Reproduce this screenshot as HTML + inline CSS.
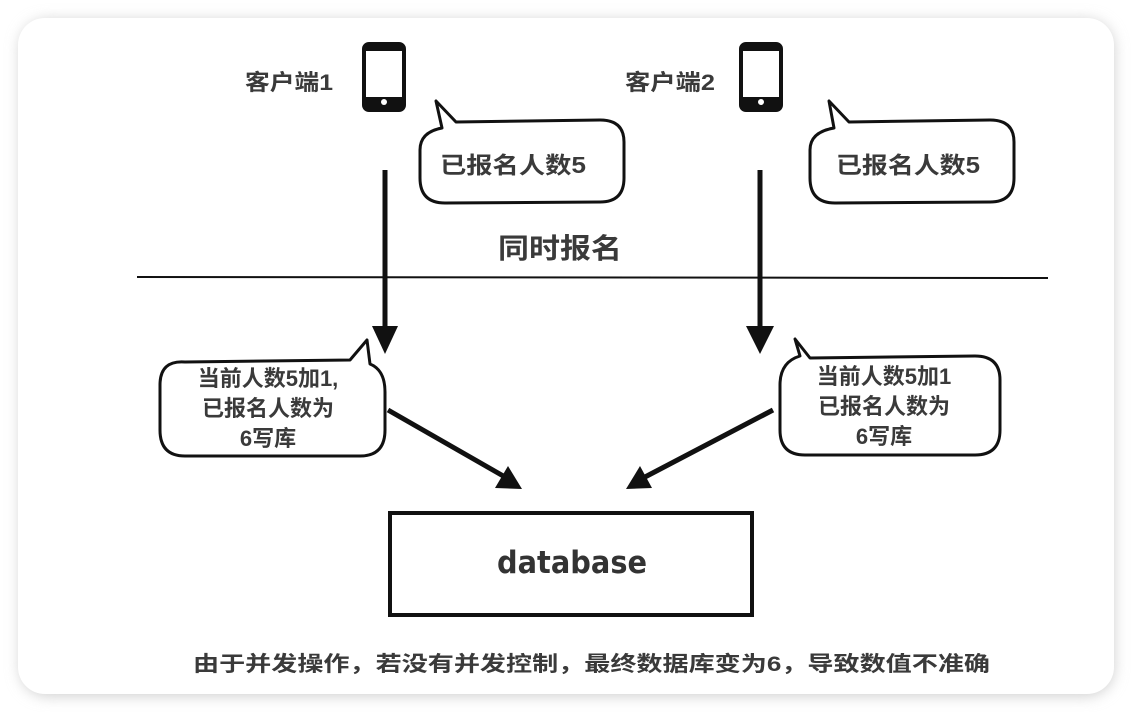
<!DOCTYPE html>
<html><head><meta charset="utf-8">
<style>
html,body{margin:0;padding:0;background:#fff;width:1132px;height:712px;overflow:hidden}
svg{display:block}
text{font-family:"Liberation Sans","Noto Sans CJK SC",sans-serif;fill:#3a3a3a;font-weight:bold}
</style></head><body>
<svg width="1132" height="712" viewBox="0 0 1132 712" xmlns="http://www.w3.org/2000/svg">
<defs>
<filter id="sh" x="-5%" y="-5%" width="110%" height="110%">
<feGaussianBlur stdDeviation="7"/>
</filter>
</defs>
<rect x="0" y="0" width="1132" height="712" fill="#fff"/>
<rect x="20" y="20" width="1094" height="676" rx="28" fill="#cfcfcf" filter="url(#sh)"/>
<rect x="18" y="18" width="1096" height="676" rx="27" fill="#fff"/>

<!-- client labels -->
<text x="245" y="90" font-size="22" textLength="88" lengthAdjust="spacingAndGlyphs">客户端1</text>
<text x="625" y="90" font-size="22" textLength="90" lengthAdjust="spacingAndGlyphs">客户端2</text>

<!-- phones -->
<g fill="none" stroke="#111">
<rect x="364" y="44" width="40" height="66" rx="5" stroke-width="4"/>
<rect x="741" y="44" width="40" height="66" rx="5" stroke-width="4"/>
</g>
<g fill="#111">
<rect x="366" y="46" width="36" height="5"/><rect x="366" y="97" width="36" height="11"/>
<rect x="743" y="46" width="36" height="5"/><rect x="743" y="97" width="36" height="11"/>
</g>
<circle cx="384" cy="102" r="3" fill="#fff"/>
<circle cx="761" cy="102" r="3" fill="#fff"/>

<!-- top bubbles -->
<g fill="#fff" stroke="#111" stroke-width="3" stroke-linejoin="round">
<path d="M456,122 L436,101 L442,128 Q420,132 420,150 L420,178 Q420,203 445,203 L600,202 Q624,202 624,178 L624,142 Q624,120 600,120 Z"/>
<path d="M849,122 L829,101 L834,128 Q810,132 810,150 L810,178 Q810,203 835,203 L990,202 Q1014,202 1014,178 L1014,142 Q1014,120 990,120 Z"/>
</g>
<text x="440" y="173" font-size="23" textLength="146" lengthAdjust="spacingAndGlyphs">已报名人数5</text>
<text x="836" y="173" font-size="23" textLength="144" lengthAdjust="spacingAndGlyphs">已报名人数5</text>

<!-- divider -->
<line x1="137" y1="277" x2="1048" y2="278" stroke="#111" stroke-width="2"/>
<text x="498" y="258" font-size="28" textLength="124" lengthAdjust="spacingAndGlyphs">同时报名</text>

<!-- vertical arrows -->
<g stroke="#111" stroke-width="5" fill="#111">
<line x1="385" y1="170" x2="385" y2="330"/>
<line x1="760" y1="170" x2="760" y2="330"/>
</g>
<polygon points="372,326 398,326 385,354" fill="#111"/>
<polygon points="746,326 774,326 760,354" fill="#111"/>

<!-- lower bubbles -->
<g fill="#fff" stroke="#111" stroke-width="3" stroke-linejoin="round">
<path d="M350,360 L367,340 L370,364 Q385,370 385,392 L385,430 Q385,456 360,456 L185,456 Q160,456 160,430 L160,385 Q160,360 185,362 Z"/>
<path d="M810,358 L795,339 L800,356 Q780,362 780,385 L780,430 Q780,455 805,455 L975,455 Q1000,455 1000,430 L1000,380 Q1000,356 975,356 Z"/>
</g>
<g font-size="22" text-anchor="middle">
<text x="268" y="386">当前人数5加1,</text>
<text x="268" y="416">已报名人数为</text>
<text x="268" y="446">6写库</text>
<text x="884" y="384">当前人数5加1</text>
<text x="884" y="414">已报名人数为</text>
<text x="884" y="444">6写库</text>
</g>

<!-- diagonal arrows -->
<line x1="388" y1="410" x2="505" y2="477" stroke="#111" stroke-width="5"/>
<polygon points="522,489 495,488 508,466" fill="#111"/>
<line x1="773" y1="410" x2="645" y2="477" stroke="#111" stroke-width="5"/>
<polygon points="626,489 652,488 640,466" fill="#111"/>

<!-- database -->
<rect x="390" y="513" width="362" height="102" fill="#fff" stroke="#111" stroke-width="4"/>
<text x="572" y="573" font-size="31" text-anchor="middle" textLength="150" lengthAdjust="spacingAndGlyphs" style="font-family:'DejaVu Sans',sans-serif;fill:#333">database</text>

<text x="193" y="671" font-size="21" textLength="797" lengthAdjust="spacingAndGlyphs">由于并发操作，若没有并发控制，最终数据库变为6，导致数值不准确</text>
</svg>
</body></html>
